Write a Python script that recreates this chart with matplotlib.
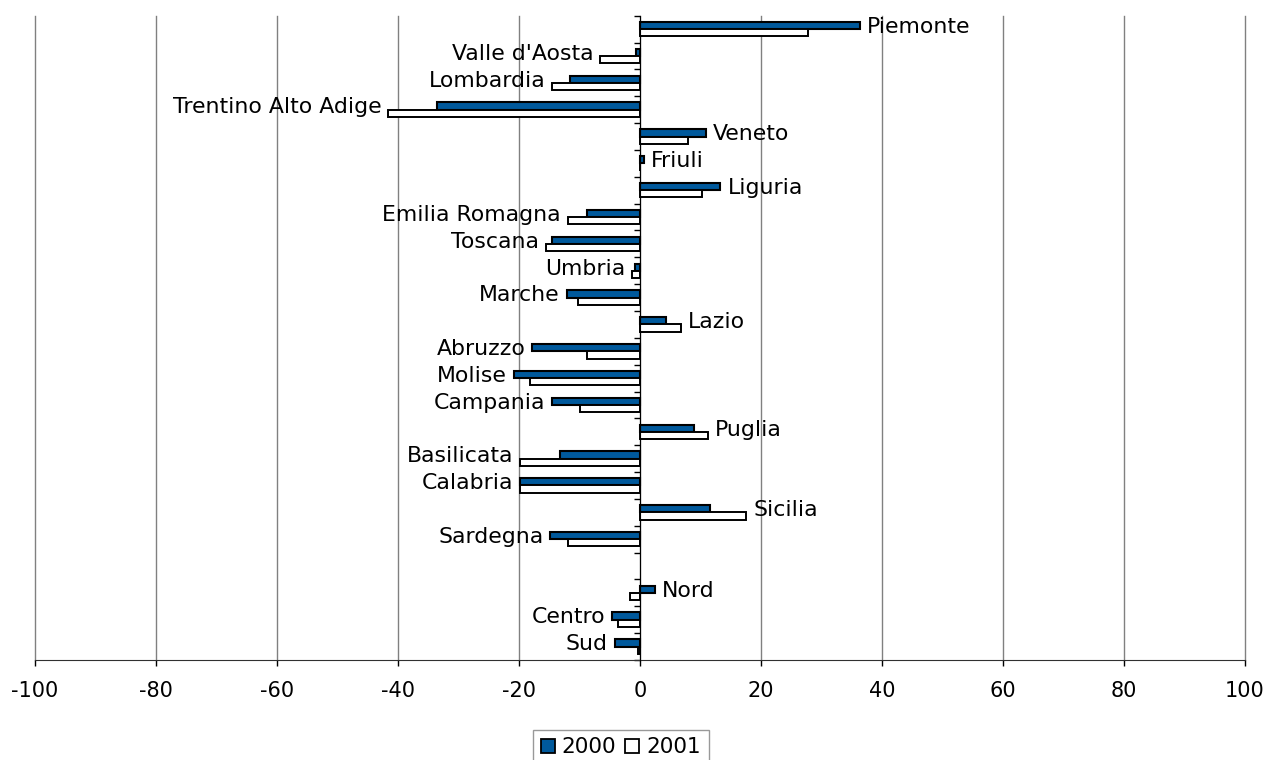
import numpy as np
import matplotlib
matplotlib.use("Agg")
import matplotlib.pyplot as plt
from matplotlib.lines import Line2D

regions = ["Piemonte", "Valle d'Aosta", "Lombardia", "Trentino Alto Adige", "Veneto",
           "Friuli", "Liguria", "Emilia Romagna", "Toscana", "Umbria", "Marche", "Lazio",
           "Abruzzo", "Molise", "Campania", "Puglia", "Basilicata", "Calabria", "Sicilia",
           "Sardegna", "", "Nord", "Centro", "Sud"]
v2000 = [36.4, -0.7, -11.5, -33.6, 10.9, 0.7, 13.3, -8.8, -14.5, -0.9, -12.1, 4.3,
         -17.8, -20.8, -14.5, 9.0, -13.2, -19.8, 11.6, -14.8, np.nan, 2.4, -4.6, -4.2]
v2001 = [27.8, -6.6, -14.5, -41.6, 8.0, 0.0, 10.2, -11.9, -15.5, -1.3, -10.2, 6.7,
         -8.7, -18.2, -9.9, 11.3, -19.8, -19.8, 17.6, -11.9, np.nan, -1.7, -3.6, -0.3]
xticks = list(range(-100, 101, 20))

blue = "#00599c"
fsize = 15

fig = plt.figure(figsize=(12.69, 7.60), dpi=100)
ax = fig.add_axes([0.0276, 0.1316, 0.9535, 0.8477])

y = np.arange(len(regions))
h = 0.27
ax.barh(y - h / 2, v2000, height=h, color=blue, edgecolor="black", linewidth=1.5, zorder=3)
ax.barh(y + h / 2, v2001, height=h, color="white", edgecolor="black", linewidth=1.4, zorder=3)

# category names next to the bars
for i, name in enumerate(regions):
    if not name:
        continue
    a, b = v2000[i], v2001[i]
    if a >= 0:
        x = max(a, b, 0)
        ax.annotate(name, (x, y[i] - h / 2), xytext=(5, -1), textcoords="offset points",
                    ha="left", va="center", fontsize=15.8, zorder=4)
    else:
        x = min(a, b, 0)
        ax.annotate(name, (x, y[i] - h / 2), xytext=(-5, -1), textcoords="offset points",
                    ha="right", va="center", fontsize=15.8, zorder=4)

ax.set_xlim(-100, 100)
ax.set_ylim(len(regions) - 0.5, -0.5)
ax.set_xticks(xticks)
ax.set_xticklabels([str(t) for t in xticks], fontsize=fsize)
ax.tick_params(axis="x", direction="out", length=4, width=1, pad=11, colors="black")
ax.grid(axis="x", color="#808080", linewidth=1, zorder=0)
for gl in ax.get_xgridlines():
    gl.set_clip_on(False)

ax.set_yticks(np.arange(len(regions) + 1) - 0.5)
ax.set_yticklabels([])
ax.tick_params(axis="y", direction="out", length=4, width=1, color="black")
ax.spines["left"].set_position(("data", 0))
ax.spines["left"].set_zorder(5)
ax.spines["right"].set_visible(False)
ax.spines["top"].set_visible(False)
ax.spines["bottom"].set_color("#303030")

handles = [Line2D([], [], marker="s", linestyle="none", markersize=10,
                  markerfacecolor=blue, markeredgecolor="black", markeredgewidth=1.3),
           Line2D([], [], marker="s", linestyle="none", markersize=10,
                  markerfacecolor="white", markeredgecolor="black", markeredgewidth=1.3)]
leg = fig.legend(handles, ["2000", "2001"], loc="upper center", bbox_to_anchor=(0.489, 0.040),
                 ncol=2, fontsize=15.5, frameon=True, fancybox=False, handlelength=0.7,
                 handletextpad=0.3, columnspacing=0.4, borderpad=0.35, borderaxespad=0)
leg.get_frame().set_edgecolor("#808080")
leg.get_frame().set_linewidth(1)

fig.savefig("out.png", dpi=100)
